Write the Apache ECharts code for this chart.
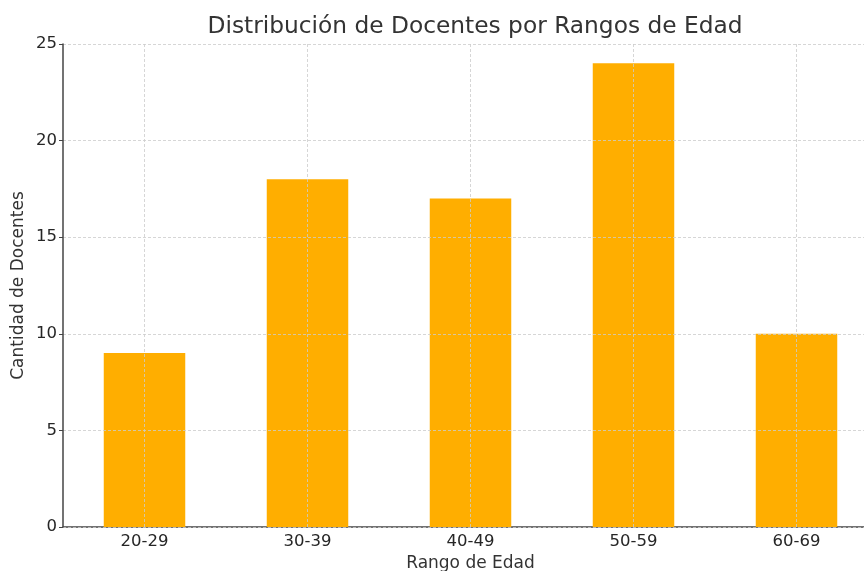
<!DOCTYPE html>
<html><head><meta charset="utf-8">
<script src="https://cdn.jsdelivr.net/npm/echarts@6/dist/echarts.min.js"></script>
<style>html,body{margin:0;padding:0;background:#fff}#c{width:864px;height:571px}</style>
</head><body><div id="c"></div>
<script>
const categories = ['20-29', '30-39', '40-49', '50-59', '60-69'];
const docentes = [9, 18, 17, 24, 10];
const yTicks = [0, 5, 10, 15, 20, 25];
const titleText = 'Distribución de Docentes por Rangos de Edad';
const xName = 'Rango de Edad';
const yName = 'Cantidad de Docentes';

// half-step positions for gridlines at category centres
const halfSteps = [];
for (let i = 0; i <= categories.length * 2; i++) halfSteps.push(String(i));

const font = 'DejaVu Sans';
const chart = echarts.init(document.getElementById('c'), null, {renderer: 'canvas'});
chart.setOption({
  animation: false,
  backgroundColor: '#fff',
  textStyle: {fontFamily: font},
  title: {
    text: titleText, left: 470, top: 10, textAlign: 'center',
    textStyle: {fontFamily: font, fontSize: 23.3, fontWeight: 'normal', color: '#333'}
  },
  grid: {left: 63, top: 44, width: 815, height: 483, containLabel: false, outerBoundsMode: 'none'},
  xAxis: [{
    type: 'category', data: categories, boundaryGap: true,
    name: xName, nameLocation: 'middle', nameGap: 28,
    nameTextStyle: {fontFamily: font, fontSize: 17, color: '#333'},
    axisLine: {lineStyle: {color: '#444', width: 1.5}},
    axisTick: {alignWithLabel: true, length: 4, lineStyle: {color: '#444'}},
    axisLabel: {fontFamily: font, fontSize: 16.5, color: '#262626', margin: 6},
    splitLine: {show: false}
  }, {
    type: 'category', data: halfSteps, boundaryGap: false, position: 'bottom',
    z: 5,
    axisLine: {show: false}, axisTick: {show: false}, axisLabel: {show: false},
    splitLine: {show: true, interval: (i) => i % 2 === 1,
      lineStyle: {color: '#cccccc', type: [3, 2], width: 0.8}}
  }],
  yAxis: {
    type: 'value', min: 0, max: 25, interval: 5, z: 5,
    name: yName, nameLocation: 'middle', nameGap: 36, nameMoveOverlap: false,
    nameTextStyle: {fontFamily: font, fontSize: 17, color: '#333'},
    axisLine: {show: true, lineStyle: {color: '#444', width: 1.5}},
    axisTick: {show: true, length: 4, lineStyle: {color: '#444'}},
    axisLabel: {fontFamily: font, fontSize: 16.5, color: '#262626', margin: 6,
      formatter: (v) => yTicks.includes(v) ? String(v) : ''},
    splitLine: {show: true, lineStyle: {color: '#cccccc', type: [3, 2], width: 0.8}}
  },
  series: [{
    type: 'bar', data: docentes, xAxisIndex: 0, barWidth: '50%',
    itemStyle: {color: '#FFAE00'}, z: 2
  }]
});
</script></body></html>
